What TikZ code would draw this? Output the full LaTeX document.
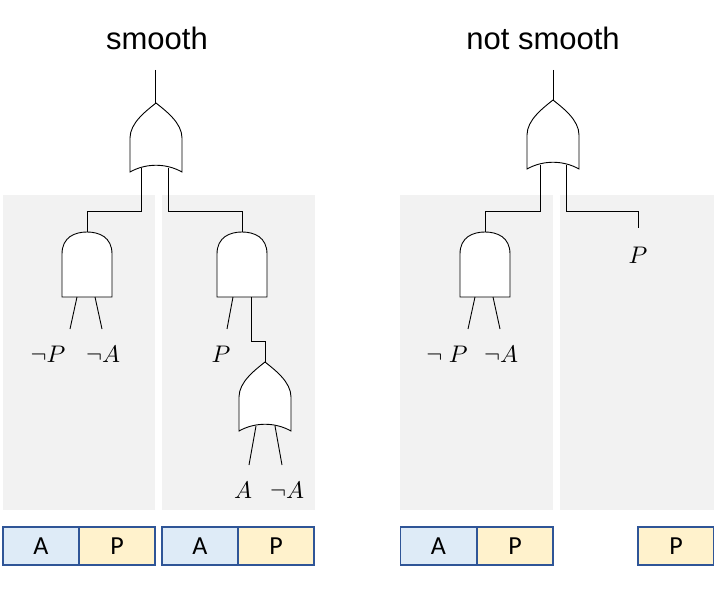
\documentclass[tikz,border=0pt]{standalone}
\usepackage{amssymb}
\usepackage{fontspec}
\setmainfont{Liberation Sans}
\newfontfamily\boxfont{Carlito}
\usetikzlibrary{calc}
\definecolor{panel}{HTML}{F2F2F2}
\definecolor{cellA}{HTML}{DEEBF7}
\definecolor{cellP}{HTML}{FFF2CC}
\definecolor{cellrim}{HTML}{2F5597}
\tikzset{
  wire/.style={line width=0.9pt},
  gate/.style={line width=0.9pt, fill=white},
  lit/.style={scale=2.4, inner sep=0pt},
  cell/.style={draw=cellrim, line width=1.2pt, minimum width=76pt, minimum height=38pt, inner sep=0pt},
}
% or gate: centre x, top y
\newcommand{\orgate}[2]{%
  \draw[gate] ({#1-26},{#2+69}) -- ({#1-26},{#2+35})
    .. controls ({#1-26},{#2+20}) and ({#1-10},{#2+8}) .. ({#1},{#2})
    .. controls ({#1+10},{#2+8}) and ({#1+26},{#2+20}) .. ({#1+26},{#2+35})
    -- ({#1+26},{#2+69})
    .. controls ({#1+10},{#2+60}) and ({#1-10},{#2+60}) .. cycle;}
% and gate: centre x, top y
\newcommand{\andgate}[2]{%
  \draw[gate] ({#1-25},{#2+65}) -- ({#1-25},{#2+22})
    .. controls ({#1-25},{#2+5}) and ({#1-12},{#2}) .. ({#1},{#2})
    .. controls ({#1+12},{#2}) and ({#1+25},{#2+5}) .. ({#1+25},{#2+22})
    -- ({#1+25},{#2+65}) -- cycle;}
\newcommand{\celltext}[1]{\scalebox{2.6}{\boxfont #1}}
\begin{document}
\begin{tikzpicture}[x=1pt, y=-1pt]
    \useasboundingbox (0,0) rectangle (714,593);
    % panels
    \fill[panel] (3,195) rectangle (155,510);
    \fill[panel] (162,195) rectangle (315,510);
    \fill[panel] (400,195) rectangle (553,510);
    \fill[panel] (560,195) rectangle (714,510);
    % titles
    \node[scale=3.1] (smooth) at (157,38) {smooth};
    \node[scale=3.1] (notsmooth) at (543,38) {not smooth};
    % smooth circuit
    \draw[wire] (155,70) -- (155,103);
    \draw[wire] (141,168) -- (141,211) -- (87,211) -- (87,232);
    \draw[wire] (168,168) -- (168,211) -- (242,211) -- (242,232);
    \orgate{156}{103}
    \andgate{87}{232}
    \andgate{242}{232}
    \draw[wire] (77,297) -- (70,329);
    \draw[wire] (95,297) -- (102,329);
    \draw[wire] (233,297) -- (227,329);
    \draw[wire] (251,297) -- (251,341) -- (265,341) -- (265,362);
    \orgate{265}{362}
    \draw[wire] (256,426) -- (249,465);
    \draw[wire] (275,426) -- (282,465);
    \node[lit] (np1) at (48,354) {$\neg P$};
    \node[lit] (na1) at (103,354) {$\neg A$};
    \node[lit] (p1) at (221,354) {$P$};
    \node[lit] (a1) at (243,490) {$A$};
    \node[lit] (na2) at (287,490) {$\neg A$};
    % not smooth circuit
    \draw[wire] (553,70) -- (553,100);
    \draw[wire] (540,165) -- (540,211) -- (485,211) -- (485,232);
    \draw[wire] (566,165) -- (566,211) -- (638,211) -- (638,228);
    \orgate{553}{100}
    \andgate{485}{232}
    \draw[wire] (475,297) -- (468,329);
    \draw[wire] (493,297) -- (500,329);
    \node[lit] (np2) at (447,354) {$\neg\ P$};
    \node[lit] (na3) at (501,354) {$\neg A$};
    \node[lit] (p2) at (638,255) {$P$};
    % cells
    \node[cell, fill=cellA] (c1) at (41,546) {\celltext{A}};
    \node[cell, fill=cellP] (c2) at (117,546) {\celltext{P}};
    \node[cell, fill=cellA] (c3) at (200,546) {\celltext{A}};
    \node[cell, fill=cellP] (c4) at (276,546) {\celltext{P}};
    \node[cell, fill=cellA] (c5) at (438.5,546) {\celltext{A}};
    \node[cell, fill=cellP] (c6) at (515,546) {\celltext{P}};
    \node[cell, fill=cellP] (c7) at (676,546) {\celltext{P}};
\end{tikzpicture}
\end{document}
